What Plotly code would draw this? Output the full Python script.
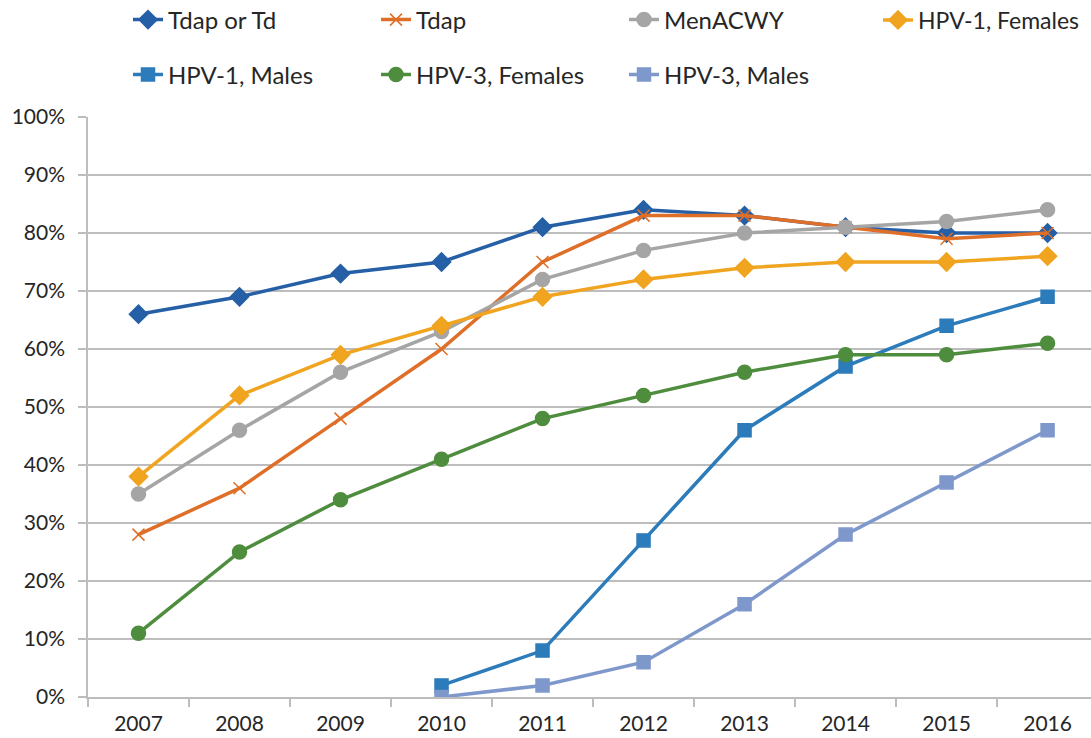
import plotly.graph_objects as go

years = ["2007", "2008", "2009", "2010", "2011", "2012", "2013", "2014", "2015", "2016"]
tdap_or_td = [66, 69, 73, 75, 81, 84, 83, 81, 80, 80]
tdap = [28, 36, 48, 60, 75, 83, 83, 81, 79, 80]
menacwy = [35, 46, 56, 63, 72, 77, 80, 81, 82, 84]
hpv1_f = [38, 52, 59, 64, 69, 72, 74, 75, 75, 76]
hpv1_m = [None, None, None, 2, 8, 27, 46, 57, 64, 69]
hpv3_f = [11, 25, 34, 41, 48, 52, 56, 59, 59, 61]
hpv3_m = [None, None, None, 0, 2, 6, 16, 28, 37, 46]

series = [
    ("Tdap or Td", tdap_or_td, "#255FA6", "diamond", 14, "legend"),
    ("Tdap", tdap, "#DF6F28", "x-thin-open", 12, "legend"),
    ("MenACWY", menacwy, "#A5A5A5", "circle", 14, "legend"),
    ("HPV-1, Females", hpv1_f, "#F0A41F", "diamond", 14, "legend3"),
    ("HPV-1, Males", hpv1_m, "#2C7BBA", "square", 13, "legend2"),
    ("HPV-3, Females", hpv3_f, "#4F8D3E", "circle", 14, "legend2"),
    ("HPV-3, Males", hpv3_m, "#7F98CC", "square", 13, "legend2"),
]

fig = go.Figure()
xs = list(range(len(years)))
for name, vals, col, sym, sz, lg in series:
    fig.add_trace(go.Scatter(
        x=xs, y=[v / 100 if v is not None else None for v in vals],
        name=name, mode="lines+markers",
        line=dict(color=col, width=3.5),
        marker=dict(symbol=sym, size=sz, color=col,
                    line=dict(color=col, width=1.5)),
        connectgaps=False, legend=lg,
    ))

font_family = "Lato, 'Liberation Sans', sans-serif"
W, H = 1091, 738


def leg(xpx, ypx, size=24):
    return dict(orientation="h", xref="container", yref="container",
                x=xpx / W, xanchor="left", y=1 - ypx / H, yanchor="middle",
                entrywidth=203, entrywidthmode="pixels", font=dict(size=size),
                bgcolor="rgba(0,0,0,0)")


fig.update_layout(
    width=W, height=H,
    margin=dict(l=88, r=0, t=117, b=41, autoexpand=False),
    plot_bgcolor="white", paper_bgcolor="white",
    font=dict(family=font_family, size=21, color="#262626"),
    showlegend=True,
    legend=leg(128, 20),
    legend2=leg(128, 75),
    legend3=leg(878, 20, 23),
    xaxis=dict(
        tickmode="array", tickvals=xs, ticktext=years,
        range=[-0.5, 9.43], showgrid=False, zeroline=False,
        showline=False, ticks="", tickfont=dict(size=21), ticklabelstandoff=12,
    ),
    yaxis=dict(
        range=[0, 1.0], tickformat=".0%", dtick=0.1,
        showgrid=True, gridcolor="#BDBDBD", gridwidth=1.5,
        zeroline=False, showline=True, linecolor="#BDBDBD", linewidth=1.5,
        ticks="outside", ticklen=8, tickcolor="#BDBDBD", tickwidth=1.5,
        tickfont=dict(size=21), ticklabelstandoff=9,
    ),
    xaxis2=dict(overlaying="x", side="bottom", range=[-0.5, 9.43],
                tickmode="array", tickvals=[i - 0.5 for i in range(11)],
                ticktext=[""] * 11, ticks="outside", ticklen=8,
                tickcolor="#BDBDBD", tickwidth=1.5, showgrid=False,
                zeroline=False, showline=True, linecolor="#BDBDBD", linewidth=1.5),
)
fig.add_trace(go.Scatter(x=[0], y=[None], xaxis="x2", showlegend=False, hoverinfo="skip"))

fig.write_html("out.html", config={"displayModeBar": False},
               post_script="document.body.style.margin='0';document.body.style.overflow='hidden';")
